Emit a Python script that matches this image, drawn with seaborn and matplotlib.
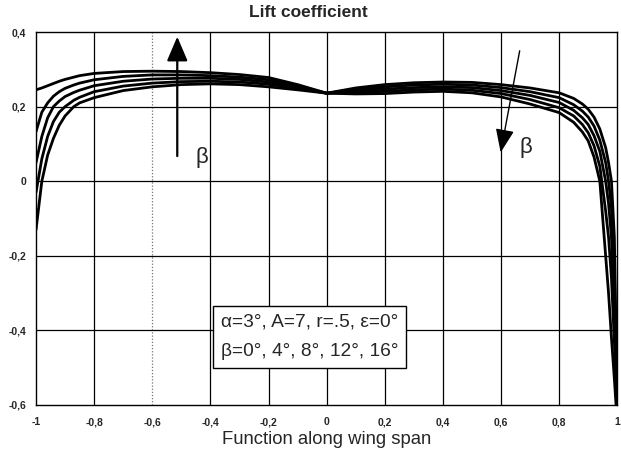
import pandas as pd
import seaborn as sns
import matplotlib.pyplot as plt

# span position (-1 = left tip, 1 = right tip)
span = [-1, -0.98, -0.96, -0.94, -0.92, -0.9, -0.87, -0.85, -0.8, -0.7, -0.6,
        -0.5, -0.4, -0.3, -0.2, -0.1, 0, 0.1, 0.2, 0.3, 0.4, 0.5, 0.6, 0.7,
        0.8, 0.85, 0.88, 0.9, 0.92, 0.94, 0.96, 0.97, 0.98, 0.99, 1.0]

betas = [0, 4, 8, 12, 16]

cl_b0 = [-0.13, 0.0, 0.07, 0.115, 0.15, 0.175, 0.2, 0.21, 0.224, 0.243, 0.253,
         0.259, 0.261, 0.259, 0.253, 0.245, 0.236, 0.25, 0.259, 0.264, 0.266,
         0.265, 0.259, 0.25, 0.237, 0.222, 0.207, 0.193, 0.172, 0.14, 0.09,
         0.05, 0.0, -0.15, -0.6]
cl_b4 = [-0.03, 0.06, 0.12, 0.16, 0.185, 0.2, 0.217, 0.225, 0.24, 0.255, 0.263,
         0.267, 0.268, 0.266, 0.26, 0.249, 0.236, 0.246, 0.253, 0.258, 0.26,
         0.258, 0.251, 0.24, 0.224, 0.205, 0.188, 0.172, 0.148, 0.11, 0.05,
         0.0, -0.07, -0.25, -0.6]
cl_b8 = [0.05, 0.12, 0.17, 0.2, 0.215, 0.227, 0.238, 0.244, 0.256, 0.268, 0.274,
         0.276, 0.276, 0.273, 0.266, 0.252, 0.236, 0.242, 0.247, 0.251, 0.253,
         0.251, 0.243, 0.23, 0.211, 0.19, 0.17, 0.152, 0.122, 0.08, 0.0,
         -0.06, -0.15, -0.35, -0.6]
cl_b12 = [0.133, 0.185, 0.21, 0.228, 0.24, 0.249, 0.258, 0.263, 0.272, 0.281,
          0.285, 0.285, 0.283, 0.279, 0.272, 0.256, 0.236, 0.238, 0.241, 0.245,
          0.247, 0.244, 0.235, 0.219, 0.197, 0.175, 0.152, 0.13, 0.095, 0.04,
          -0.08, -0.15, -0.26, -0.43, -0.6]
cl_b16 = [0.245, 0.25, 0.256, 0.262, 0.268, 0.273, 0.279, 0.283, 0.289, 0.294,
          0.295, 0.294, 0.291, 0.286, 0.278, 0.259, 0.236, 0.234, 0.235, 0.239,
          0.241, 0.237, 0.226, 0.207, 0.184, 0.158, 0.132, 0.108, 0.065, 0.0,
          -0.2, -0.3, -0.42, -0.53, -0.65]

xticks = [-1, -0.8, -0.6, -0.4, -0.2, 0, 0.2, 0.4, 0.6, 0.8, 1]
xtick_labels = ["-1", "-0,8", "-0,6", "-0,4", "-0,2", "0", "0,2", "0,4", "0,6", "0,8", "1"]
yticks = [-0.6, -0.4, -0.2, 0, 0.2, 0.4]
ytick_labels = ["-0,6", "-0,4", "-0,2", "0", "0,2", "0,4"]

rows = []
for beta, cl in zip(betas, [cl_b0, cl_b4, cl_b8, cl_b12, cl_b16]):
    for x, c in zip(span, cl):
        rows.append({"x": x, "cl": c, "beta": beta})
df = pd.DataFrame(rows)

sns.set_style("white")
plt.rcParams["font.family"] = ["Liberation Sans", "DejaVu Sans"]

fig = plt.figure(figsize=(6.21, 4.51), dpi=100)
ax = fig.add_axes([0.058, 0.102, 0.936, 0.827])

# grid
for xv in xticks[1:-1]:
    if xv == -0.6:
        ax.axvline(xv, color="0.45", lw=0.9, ls=(0, (1, 1.5)), zorder=1)
    else:
        ax.axvline(xv, color="black", lw=0.9, zorder=1)
for yv in yticks[1:-1]:
    ax.axhline(yv, color="black", lw=0.9, zorder=1)

sns.lineplot(data=df, x="x", y="cl", hue="beta", palette=["black"] * 5,
             linewidth=2.0, legend=False, ax=ax, zorder=3)

ax.set_xlim(-1, 1)
ax.set_ylim(-0.6, 0.4)
ax.set_xticks(xticks)
ax.set_xticklabels(xtick_labels, fontsize=7.5, fontweight="bold")
ax.set_yticks(yticks)
ax.set_yticklabels(ytick_labels, fontsize=7.5, fontweight="bold")
ax.tick_params(axis="x", length=0, pad=9)
ax.tick_params(axis="y", length=0, pad=7)
for sp in ax.spines.values():
    sp.set_color("black")
    sp.set_linewidth(1.0)

ax.set_xlabel("Function along wing span", fontsize=13.3, labelpad=2.5)
ax.set_ylabel("")
fig.text(0.497, 0.972, "Lift coefficient", ha="center", va="center",
         fontsize=12.5, fontweight="bold")

# arrows showing the effect of beta
ax.annotate("", xy=(-0.514, 0.395), xytext=(-0.514, 0.06),
            arrowprops=dict(arrowstyle="-|>,head_length=0.75,head_width=0.32",
                            color="black", lw=1.6, mutation_scale=20))
ax.text(-0.43, 0.064, "β", fontsize=16, ha="center", va="center")
ax.annotate("", xy=(0.597, 0.07), xytext=(0.666, 0.357),
            arrowprops=dict(arrowstyle="-|>,head_length=0.8,head_width=0.32",
                            color="black", lw=1.0, mutation_scale=18))
ax.text(0.685, 0.09, "β", fontsize=16, ha="center", va="center")

ax.text(-0.365, -0.418, "α=3°, A=7, r=.5, ε=0°\nβ=0°, 4°, 8°, 12°, 16°",
        fontsize=13.8, ha="left", va="center", linespacing=1.95, zorder=5,
        bbox=dict(boxstyle="square,pad=0.42", facecolor="white",
                  edgecolor="black", linewidth=1.0))

plt.savefig("out.png", dpi=100)
